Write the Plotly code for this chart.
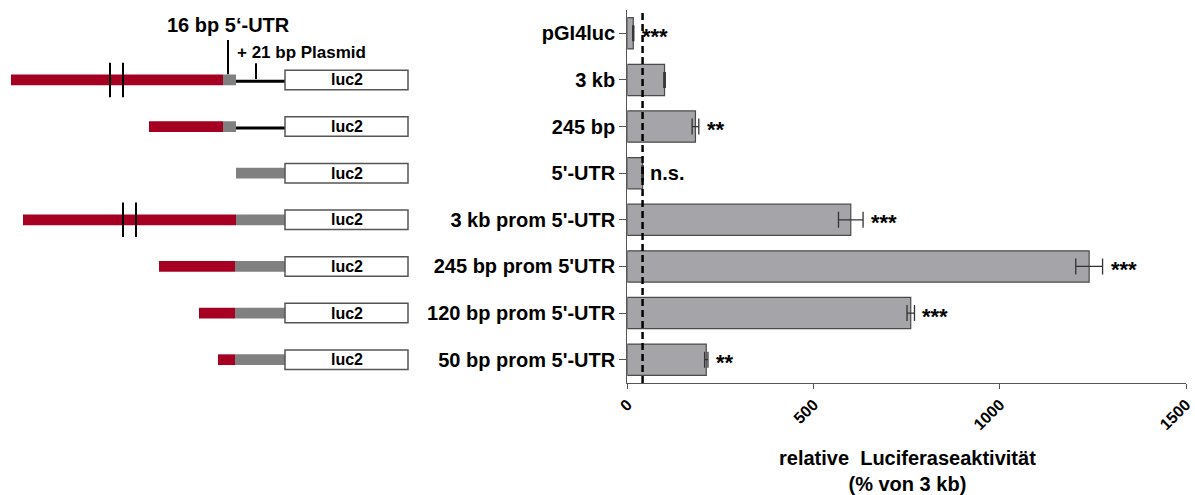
import plotly.graph_objects as go

# ---- assay results: relative luciferase activity (% of the 3 kb construct) ----
constructs = ["pGI4luc", "3 kb", "245 bp", "5'-UTR", "3 kb prom 5'-UTR",
              "245 bp prom 5'UTR", "120 bp prom 5'-UTR", "50 bp prom 5'-UTR"]
activity = [16, 100, 183, 41, 600, 1240, 761, 212]
activity_err = [1.5, 2, 9, 2, 33, 36, 10, 4.5]
significance = ["***", "", "**", "n.s.", "***", "***", "***", "**"]
x_ticks = [0, 500, 1000, 1500]

# ---- construct schematics (schematic units, luc2 starts at 285) ----
# one entry per construct row (row index matches the bar rows)
schem_rows = [1, 2, 3, 4, 5, 6, 7]
promoter_from = [11, 149, None, 23, 159, 199, 218]
promoter_to = [223, 223, None, 236, 235, 235, 235]
utr_from = [223, 223, 236, 236, 235, 235, 235]
utr_to = [236, 236, 285, 285, 285, 285, 285]
plasmid_from = [236, 236, None, None, None, None, None]
breaks = [(110, 123), None, None, (123, 136), None, None, None]
luc2_from, luc2_to = 285, 408

FONT = "Liberation Sans, Arial, sans-serif"
RED = "#a50021"
UTR_GREY = "#808080"
AXIS = "#555555"
BAR_FILL = "#a4a4a9"

n = len(constructs)
rows = list(range(n))

fig = go.Figure()
fig.add_trace(go.Bar(
    y=rows, x=activity, orientation="h", width=0.67,
    marker=dict(color=BAR_FILL, line=dict(color="#4a4a4a", width=1.2)),
    error_x=dict(type="data", array=activity_err, visible=True,
                 color="#333333", thickness=1.3, width=8),
    showlegend=False, hoverinfo="skip",
))

shapes = []
annotations = []

# dashed reference line at the 5'-UTR level
shapes.append(dict(type="line", xref="x", yref="paper",
                   x0=activity[3], x1=activity[3], y0=0, y1=1,
                   line=dict(color="black", width=2.5, dash="7px,4px")))

# significance marks after each error bar
for i, s in enumerate(significance):
    if not s:
        continue
    stars = s.startswith("*")
    annotations.append(dict(
        x=activity[i] + activity_err[i], y=i, xref="x", yref="y",
        text=s, showarrow=False, xanchor="left", yanchor="middle",
        xshift=6 if stars else 5, yshift=-3 if stars else 0,
        font=dict(family=FONT, size=22 if stars else 20, color="black", weight="bold"),
    ))

# construct schematics on the left
half_bar = 0.115
for k, r in enumerate(schem_rows):
    if promoter_from[k] is not None:
        shapes.append(dict(type="rect", xref="x2", yref="y",
                           x0=promoter_from[k], x1=promoter_to[k],
                           y0=r - half_bar, y1=r + half_bar,
                           fillcolor=RED, line=dict(width=0)))
    shapes.append(dict(type="rect", xref="x2", yref="y",
                       x0=utr_from[k], x1=utr_to[k],
                       y0=r - half_bar, y1=r + half_bar,
                       fillcolor=UTR_GREY, line=dict(width=0)))
    if plasmid_from[k] is not None:
        shapes.append(dict(type="line", xref="x2", yref="y",
                           x0=plasmid_from[k], x1=luc2_from, y0=r + 0.03, y1=r + 0.03,
                           line=dict(color="black", width=3)))
    if breaks[k] is not None:
        for bx in breaks[k]:
            shapes.append(dict(type="line", xref="x2", yref="y",
                               x0=bx, x1=bx, y0=r - 0.37, y1=r + 0.37,
                               line=dict(color="black", width=2)))
    shapes.append(dict(type="rect", xref="x2", yref="y",
                       x0=luc2_from, x1=luc2_to, y0=r - 0.21, y1=r + 0.21,
                       fillcolor="white", line=dict(color=AXIS, width=1.5)))
    annotations.append(dict(x=(luc2_from + luc2_to) / 2, y=r, xref="x2", yref="y",
                            text="luc2", showarrow=False,
                            font=dict(family=FONT, size=16, color="black", weight="bold")))

# labels of the first schematic
shapes.append(dict(type="line", xref="x2", yref="y", x0=228, x1=228, y0=0.145, y1=0.876,
                   line=dict(color="black", width=2)))
shapes.append(dict(type="line", xref="x2", yref="y", x0=256, x1=256, y0=0.64, y1=0.98,
                   line=dict(color="black", width=2)))
annotations.append(dict(x=228, y=-0.18, xref="x2", yref="y", text="16 bp 5‘-UTR",
                        showarrow=False, xanchor="center",
                        font=dict(family=FONT, size=20, color="black", weight="bold")))
annotations.append(dict(x=235, y=0.42, xref="x2", yref="y", text="+ 21 bp Plasmid",
                        showarrow=False, xanchor="left",
                        font=dict(family=FONT, size=17, color="black", weight="bold")))

# x-axis title
annotations.append(dict(x=0.765, y=-0.165, xref="paper", yref="paper",
                        text="relative\u00a0 Luciferaseaktivität<br>(% von 3 kb)",
                        showarrow=False, xanchor="center", yanchor="top",
                        font=dict(family=FONT, size=20, color="black", weight="bold")))

W, H = 1195, 495
ML, MR, MT, MB = 0, 9, 10, 112
plot_w = W - ML - MR
x_start = 627.3 / plot_w

fig.update_layout(
    width=W, height=H,
    margin=dict(l=ML, r=MR, t=MT, b=MB, autoexpand=False),
    plot_bgcolor="white", paper_bgcolor="white",
    shapes=shapes, annotations=annotations,
    xaxis=dict(domain=[x_start, 1.0], range=[0, 1500], tickvals=x_ticks,
               tickangle=-45, ticks="outside", ticklen=5, tickcolor=AXIS,
               showline=True, linecolor=AXIS, linewidth=1.2,
               showgrid=False, zeroline=False, automargin=False,
               tickfont=dict(family=FONT, size=16, color="black", weight="bold")),
    xaxis2=dict(domain=[0, 0.4], range=[0, 0.4 * plot_w], anchor="y",
                visible=False, fixedrange=True, automargin=False),
    yaxis=dict(range=[n - 0.5, -0.5], tickvals=rows, ticktext=constructs,
               ticks="outside", ticklen=7, tickcolor=AXIS,
               showline=True, linecolor=AXIS, linewidth=1.2,
               showgrid=False, zeroline=False, automargin=False,
               tickfont=dict(family=FONT, size=20, color="black", weight="bold")),
    bargap=0.33,
)

fig.write_html("out.html")
